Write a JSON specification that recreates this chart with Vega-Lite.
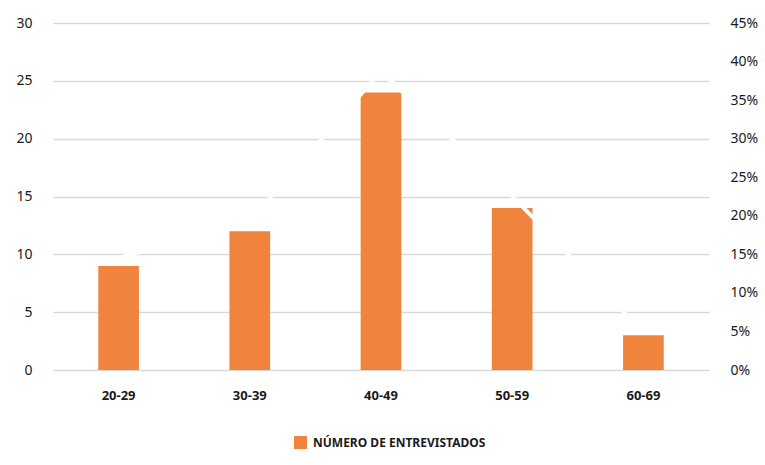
{
  "$schema": "https://vega.github.io/schema/vega-lite/v6.json",
  "width": 656,
  "height": 347,
  "autosize": "none",
  "padding": {"left": 53, "top": 23, "right": 56, "bottom": 95},
  "background": "white",
  "config": {
    "view": {"stroke": null},
    "font": "Noto Sans"
  },
  "data": {
    "values": [
      {"edad": "20-29", "entrevistados": 9, "porcentaje": 0.1452},
      {"edad": "30-39", "entrevistados": 12, "porcentaje": 0.1935},
      {"edad": "40-49", "entrevistados": 24, "porcentaje": 0.3871},
      {"edad": "50-59", "entrevistados": 14, "porcentaje": 0.2258},
      {"edad": "60-69", "entrevistados": 3, "porcentaje": 0.0484}
    ]
  },
  "encoding": {
    "x": {
      "field": "edad",
      "type": "nominal",
      "sort": null,
      "scale": {"paddingInner": 0.69, "paddingOuter": 0.345},
      "axis": {
        "title": null,
        "labelAngle": 0,
        "labelFont": "Noto Sans",
        "labelFontWeight": "bold",
        "labelFontSize": 13,
        "labelColor": "#1a1a1a",
        "labelPadding": 19,
        "domain": false,
        "ticks": false
      }
    }
  },
  "layer": [
    {
      "mark": {"type": "bar"},
      "encoding": {
        "y": {
          "field": "entrevistados",
          "type": "quantitative",
          "scale": {"domain": [0, 30]},
          "axis": {
            "title": null,
            "values": [0, 5, 10, 15, 20, 25, 30],
            "labelFont": "Noto Sans",
            "labelFontSize": 14,
            "labelColor": "#1a1a1a",
            "labelPadding": 21,
            "domain": false,
            "ticks": false,
            "grid": true,
            "gridColor": "#d9d9d9",
            "gridWidth": 1.5
          }
        },
        "color": {
          "datum": "NÚMERO DE ENTREVISTADOS",
          "type": "nominal",
          "scale": {"range": ["#F1843C"]},
          "legend": {
            "title": null,
            "orient": "none",
            "legendX": 241,
            "legendY": 413,
            "symbolType": "square",
            "symbolSize": 169,
            "symbolStrokeWidth": 0,
            "labelFont": "Noto Sans",
            "labelFontWeight": "bold",
            "labelFontSize": 12,
            "labelColor": "#1a1a1a",
            "labelOffset": 6,
            "labelLimit": 0
          }
        }
      }
    },
    {
      "mark": {"type": "line", "color": "white", "strokeWidth": 4},
      "encoding": {
        "y": {
          "field": "porcentaje",
          "type": "quantitative",
          "scale": {"domain": [0, 0.45]},
          "axis": {
            "title": null,
            "orient": "right",
            "values": [0, 0.05, 0.1, 0.15, 0.2, 0.25, 0.3, 0.35, 0.4, 0.45],
            "format": ".0%",
            "labelAlign": "left",
            "labelFont": "Noto Sans",
            "labelFontSize": 14,
            "labelColor": "#1a1a1a",
            "labelPadding": 21,
            "domain": false,
            "ticks": false,
            "grid": false
          }
        }
      }
    }
  ],
  "resolve": {"scale": {"y": "independent"}}
}
